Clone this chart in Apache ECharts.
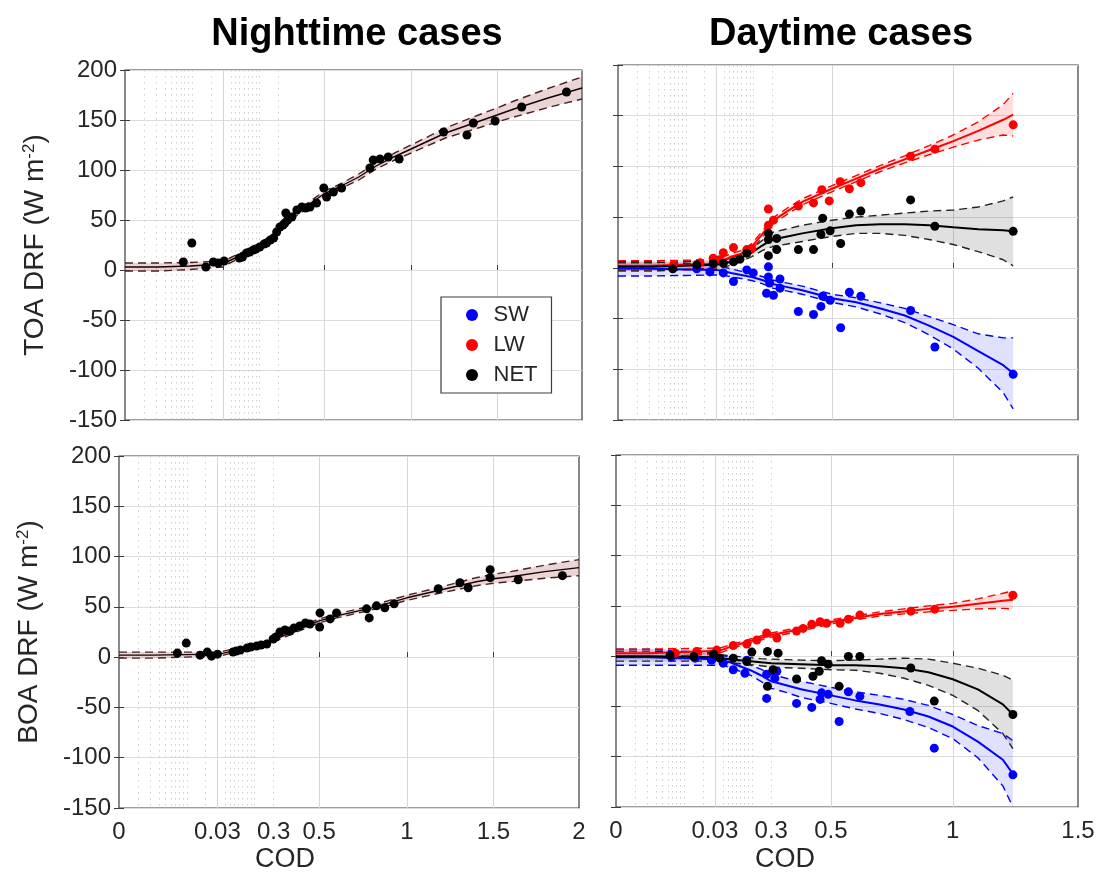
<!DOCTYPE html>
<html>
<head>
<meta charset="utf-8">
<script src="https://cdn.jsdelivr.net/npm/echarts@6/dist/echarts.min.js"></script>
<style>
html, body { margin: 0; background: #fff; }
#main { width: 1099px; height: 872px; }
</style>
</head>
<body>
<div id="main"></div>
<script>
// ---- axis ticks ----
var nightTickCod = [0, 0.03, 0.3, 0.5, 1, 1.5, 2];
var nightTickLabels = ['0', '0.03', '0.3', '0.5', '1', '1.5', '2'];
var dayTickCod = [0, 0.03, 0.3, 0.5, 1, 1.5];
var dayTickLabels = ['0', '0.03', '0.3', '0.5', '1', '1.5'];
var nightGridCod = [0.03, 0.5, 1, 1.5];
var dayGridCod = [0.03, 0.5, 1];
var yMin = -150, yMax = 200, yStep = 50;

// ---- measured points [COD, DRF] ----
var nightToaNet = [[0.0179, 8], [0.0205, 27], [0.0248, 3], [0.0271, 8], [0.0286, 7], [0.0366, 9], [0.11, 12],
  [0.125, 13], [0.145, 17], [0.16, 18], [0.178, 20], [0.19, 21], [0.209, 23], [0.23, 26], [0.242, 27], [0.26, 30],
  [0.276, 32], [0.291, 38], [0.306, 43], [0.32, 45], [0.328, 47], [0.332, 57], [0.34, 50], [0.359, 53], [0.381, 60],
  [0.403, 63], [0.42, 62], [0.439, 63], [0.468, 67], [0.5, 82], [0.516, 73], [0.555, 78], [0.602, 82], [0.764, 102],
  [0.783, 110], [0.822, 111], [0.869, 113], [0.932, 111], [1.189, 138], [1.325, 135], [1.362, 147], [1.489, 149],
  [1.645, 163], [1.909, 178]];
var nightBoaNet = [[0.0178, 4], [0.0205, 14], [0.0247, 2], [0.0269, 5], [0.0282, 1], [0.03, 3], [0.105, 5],
  [0.12, 6], [0.14, 7], [0.172, 9], [0.19, 10], [0.218, 11], [0.24, 12], [0.267, 13], [0.298, 18], [0.31, 20],
  [0.328, 25], [0.35, 27], [0.373, 26], [0.39, 29], [0.415, 31], [0.44, 34], [0.46, 33], [0.503, 30], [0.505, 44],
  [0.563, 38], [0.599, 44], [0.77, 48], [0.785, 39], [0.827, 51], [0.874, 49], [0.927, 53], [1.181, 68], [1.306, 74],
  [1.354, 69], [1.481, 87], [1.481, 79], [1.645, 77], [1.903, 81]];
var dayToaSw = [[0.0167, 0], [0.024, -1], [0.028, -4], [0.063, -5], [0.112, -13.5], [0.176, -2], [0.207, -5],
  [0.271, -25], [0.28, 1], [0.28, -9], [0.286, -15], [0.303, -27], [0.325, -11], [0.325, -20], [0.387, -43],
  [0.438, -46], [0.463, -38], [0.469, -28], [0.494, -32], [0.536, -59], [0.572, -24], [0.619, -28], [0.824, -42],
  [0.924, -78], [1.24, -105]];
var dayToaLw = [[0.0168, 2], [0.025, 5], [0.029, 9.5], [0.045, 8], [0.063, 15], [0.112, 20], [0.176, 18],
  [0.2, 19], [0.28, 58], [0.28, 42], [0.303, 47], [0.387, 61], [0.438, 64], [0.466, 77], [0.491, 66], [0.534, 85],
  [0.572, 78], [0.619, 84], [0.824, 110], [0.924, 117], [1.24, 141]];
var dayToaNet = [[0.0167, -1], [0.024, 3], [0.029, 4], [0.063, 4.6], [0.112, 6], [0.143, 8.6], [0.176, 14.5],
  [0.28, 12], [0.28, 28], [0.28, 34], [0.314, 29], [0.314, 18], [0.387, 18], [0.438, 18], [0.463, 33], [0.469, 49],
  [0.494, 36.5], [0.536, 24], [0.572, 53], [0.619, 56], [0.824, 67], [0.924, 41], [1.24, 36]];
var dayBoaSw = [[0.0168, -1], [0.024, -2], [0.029, -4], [0.07, -7], [0.118, -13.5], [0.174, -17], [0.183, -4],
  [0.278, -18], [0.278, -42], [0.312, -22], [0.319, -15], [0.385, -47], [0.436, -51], [0.464, -43], [0.469, -36.5],
  [0.491, -38], [0.534, -65], [0.572, -35.5], [0.619, -40], [0.824, -55], [0.924, -91.5], [1.24, -118]];
var dayBoaLw = [[0.018, 3], [0.0245, 4.6], [0.039, 6], [0.118, 10.6], [0.183, 12], [0.231, 16], [0.278, 23],
  [0.319, 18], [0.385, 25], [0.407, 27.6], [0.436, 31.6], [0.464, 34.3], [0.486, 32.6], [0.538, 32.6], [0.572, 36.8],
  [0.619, 40.8], [0.828, 44.7], [0.926, 46.7], [1.24, 60.5]];
var dayBoaNet = [[0.0164, 0.7], [0.0236, -0.3], [0.0296, 2], [0.054, -2], [0.118, -2], [0.183, -5.3], [0.207, 4],
  [0.282, 4.6], [0.282, -30], [0.306, -13.5], [0.323, 3], [0.385, -22.7], [0.44, -20], [0.461, -15], [0.469, -4.6],
  [0.491, -8], [0.534, -30], [0.572, -0.3], [0.619, -0.3], [0.828, -11.8], [0.924, -44.7], [1.24, -58]];

// ---- fitted curves and their confidence half widths ----
var nightFitCod = [0, 0.01, 0.02, 0.03, 0.06, 0.1, 0.15, 0.2, 0.25, 0.3, 0.35, 0.4, 0.5, 0.6, 0.7, 0.8, 0.9, 1.0, 1.2, 1.4, 1.5, 1.6, 1.8, 2.0];
var nightToaFit = [3, 3, 4, 6, 9, 13, 18, 23, 30, 41, 52, 60, 76, 84, 93, 104, 113, 121, 137, 149, 155, 161, 172, 182];
var nightToaHalf = [4, 4, 3.5, 3, 2.5, 2.5, 2.5, 2.5, 2.5, 2.5, 2.5, 2.5, 2.5, 2.5, 3, 3, 3.5, 4, 5, 6.5, 7, 8, 9.5, 11];
var nightBoaFit = [2, 2, 2.5, 3, 4, 6, 8, 10, 13, 17, 22, 27, 36, 41, 45, 49, 54, 59, 67, 75, 78, 80, 85, 89];
var nightBoaHalf = [3, 3, 2.5, 2, 2, 2, 2, 2, 2, 2, 2, 2, 2, 2, 2, 2, 2.5, 2.5, 3, 4, 4.5, 5, 6.5, 8];

var dayFitCod = [0, 0.01, 0.02, 0.03, 0.06, 0.1, 0.15, 0.2, 0.25, 0.3, 0.35, 0.4, 0.5, 0.6, 0.7, 0.8, 0.9, 1.0, 1.1, 1.2, 1.24];
var dayToaSwFit = [-1, -1, -1.5, -2, -3, -5, -7, -9, -12, -16, -19, -22, -30, -34, -40, -47, -57, -68, -82, -96, -104];
var dayToaSwHalf = [7, 7, 6, 5, 4, 4, 3.5, 3.5, 3.5, 4, 4, 4, 4, 4.5, 5.5, 7, 9, 12, 17, 27, 35];
var dayToaLwFit = [2, 2, 3, 4, 7, 11, 14, 21, 33, 46, 56, 65, 78, 88, 98, 107, 116, 125, 135, 146, 151];
var dayToaLwHalf = [5, 5, 4.5, 4, 3.5, 3, 3, 3, 3, 3, 3, 3, 3, 3, 3, 3.5, 4.5, 6, 9, 15, 21];
var dayToaNetFit = [1, 1, 2, 3, 4, 6, 10, 15, 22, 28, 31, 34, 39, 42, 43, 43, 42, 40, 38, 37, 36];
var dayToaNetHalf = [4, 4, 4, 4, 3.5, 3.5, 3.5, 4, 5, 7, 7.5, 8, 8, 8, 9, 11, 14, 17, 22, 29, 34];
var dayBoaSwFit = [-1, -1, -2, -3, -4, -6, -10, -14, -19, -25, -29, -33, -39, -44, -48, -53, -60, -70, -85, -103, -117];
var dayBoaSwHalf = [8, 8, 7, 6, 5, 5, 5, 5, 6, 7, 7, 8, 8, 8.5, 9, 10, 11, 12, 16, 26, 33];
var dayBoaLwFit = [3, 3, 4, 5, 6, 9, 12, 15, 18, 21, 24, 27, 34, 38, 42, 44.5, 47, 49, 52, 55, 56];
var dayBoaLwHalf = [4, 4, 3.5, 3, 2.5, 2, 2, 2, 2, 2, 2, 2, 2, 2, 2, 2.5, 3, 3.5, 5, 7.5, 9];
var dayBoaNetFit = [0, 0, -0.5, -1, -2, -3, -4, -5, -6, -7, -7.5, -8, -9, -9, -10, -12, -16, -23, -33, -48, -58];
var dayBoaNetHalf = [5, 5, 4.5, 4, 3.5, 3.5, 3.5, 3.5, 3.5, 4, 4, 4, 4.5, 5, 7, 10, 13, 16, 21, 29, 34];

// ---- COD axis: piecewise scale, tick positions as fraction of axis ----
var nightAxisPos = [0, 0.214, 0.336, 0.435, 0.626, 0.814, 1];
var dayAxisPos = [0, 0.214, 0.336, 0.465, 0.729, 1];
var minorGridPos = [0.042, 0.068, 0.088, 0.101, 0.113, 0.122, 0.130, 0.139, 0.148, 0.188,
  0.232, 0.242, 0.251, 0.260, 0.269, 0.278, 0.287, 0.294, 0.336];

function makeScale(cods, pos) {
    return function (c) {
        for (var i = 1; i < cods.length; i++) {
            if (c <= cods[i] || i === cods.length - 1) {
                return pos[i - 1] + (c - cods[i - 1]) / (cods[i] - cods[i - 1]) * (pos[i] - pos[i - 1]);
            }
        }
    };
}
var nightX = makeScale(nightTickCod, nightAxisPos);
var dayX = makeScale(dayTickCod, dayAxisPos);

var FONT = 'Liberation Sans';
var TXT = '#262626';

var grids = [
    {left: 125, top: 70, width: 457, height: 350},
    {left: 618, top: 65, width: 460, height: 355},
    {left: 119, top: 456, width: 460, height: 352},
    {left: 616, top: 455, width: 462, height: 352}
];
grids.forEach(function (g) {
    g.show = true;
    g.borderColor = '#3c3c3c';
    g.borderWidth = 1.2;
    g.outerBoundsMode = 'none';
});

var panelScale = [nightX, dayX, nightX, dayX];
var panelTicks = [nightTickCod, dayTickCod, nightTickCod, dayTickCod];
var panelLabels = [nightTickLabels, dayTickLabels, nightTickLabels, dayTickLabels];
var panelGrid = [nightGridCod, dayGridCod, nightGridCod, dayGridCod];

var xAxes = [], yAxes = [];
for (var g = 0; g < 4; g++) {
    (function (g) {
        var toX = panelScale[g];
        var labelPos = panelTicks[g].map(toX);
        xAxes.push({
            gridIndex: g, type: 'value', min: 0, max: 1,
            axisLine: {show: false},
            axisTick: {show: true, inside: true, length: 5, customValues: panelGrid[g].map(toX),
                lineStyle: {color: '#3c3c3c'}},
            axisLabel: {
                show: g >= 2, customValues: labelPos, margin: 12,
                fontSize: 24, color: TXT, fontFamily: FONT,
                formatter: function (v) {
                    for (var i = 0; i < labelPos.length; i++) {
                        if (Math.abs(labelPos[i] - v) < 1e-6) return panelLabels[g][i];
                    }
                    return '';
                }
            },
            splitLine: {show: true, lineStyle: {color: '#d6d6d6', width: 1}}
        });
        yAxes.push({
            gridIndex: g, type: 'value', min: yMin, max: yMax, interval: yStep,
            axisLine: {show: false},
            axisTick: {show: true, inside: true, length: 5, lineStyle: {color: '#3c3c3c'}},
            axisLabel: {show: g % 2 === 0, fontSize: 24, color: TXT, fontFamily: FONT, margin: 8},
            splitLine: {show: true, lineStyle: {color: '#dcdcdc', width: 1}},
            name: g === 0 ? 'TOA DRF (W m{sup|-2})' : (g === 2 ? 'BOA DRF (W m{sup|-2})' : ''),
            nameLocation: 'middle', nameRotate: 90, nameGap: 76, nameMoveOverlap: false,
            nameTextStyle: {fontSize: 28, color: TXT, fontFamily: FONT,
                rich: {sup: {fontSize: 17, color: TXT, fontFamily: FONT, verticalAlign: 'top'}}}
        });
    })(g);
}
// dotted minor grid and right-hand ticks
for (var g2 = 0; g2 < 4; g2++) {
    xAxes.push({
        gridIndex: g2, type: 'value', min: 0, max: 1, position: 'top',
        axisLine: {show: false}, axisLabel: {show: false},
        axisTick: {show: false, customValues: minorGridPos},
        splitLine: {show: true, lineStyle: {color: '#cdcdcd', width: 1, type: [1.5, 4.5]}}
    });
    yAxes.push({
        gridIndex: g2, type: 'value', min: yMin, max: yMax, interval: yStep, position: 'right',
        axisLine: {show: false}, axisLabel: {show: false}, splitLine: {show: false},
        axisTick: {show: true, inside: true, length: 5, lineStyle: {color: '#3c3c3c'}}
    });
}

var series = [];
function addFit(g, xs, mid, half, lineColor, dashColor, bandColor, width) {
    var toX = panelScale[g];
    series.push({
        type: 'custom', xAxisIndex: g, yAxisIndex: g, silent: true, z: 1,
        data: xs.map(function (x, i) { return [toX(x), mid[i] - half[i], mid[i] + half[i]]; }),
        encode: {x: 0, y: [1, 2]},
        renderItem: function (params, api) {
            if (params.dataIndex !== 0) return;
            var pts = [], i;
            for (i = 0; i < xs.length; i++) pts.push(api.coord([toX(xs[i]), mid[i] + half[i]]));
            for (i = xs.length - 1; i >= 0; i--) pts.push(api.coord([toX(xs[i]), mid[i] - half[i]]));
            return {type: 'polygon', shape: {points: pts}, style: {fill: bandColor}};
        }
    });
    [1, -1].forEach(function (s) {
        series.push({
            type: 'line', xAxisIndex: g, yAxisIndex: g, silent: true, z: 2,
            showSymbol: false, symbol: 'none',
            data: xs.map(function (x, i) { return [toX(x), mid[i] + s * half[i]]; }),
            lineStyle: {color: dashColor, width: 1.4, type: [8, 5]}
        });
    });
    series.push({
        type: 'line', xAxisIndex: g, yAxisIndex: g, silent: true, z: 3,
        showSymbol: false, symbol: 'none',
        data: xs.map(function (x, i) { return [toX(x), mid[i]]; }),
        lineStyle: {color: lineColor, width: width}
    });
}
function addPoints(g, name, pts, color) {
    var toX = panelScale[g];
    series.push({
        type: 'scatter', name: name, xAxisIndex: g, yAxisIndex: g, z: 4,
        symbol: 'circle', symbolSize: 9,
        data: pts.map(function (p) { return [toX(p[0]), p[1]]; }),
        itemStyle: {color: color, opacity: 1}
    });
}

var BLUE = '#0000ff', RED = '#ff0000', BLACK = '#000000';
var BAND_B = 'rgba(0,0,255,0.12)', BAND_R = 'rgba(255,0,0,0.13)', BAND_K = 'rgba(0,0,0,0.12)';
var BAND_N = 'rgba(160,60,60,0.22)';

// night panels
addPoints(0, 'NET', nightToaNet, BLACK);
addFit(0, nightFitCod, nightToaFit, nightToaHalf, '#140000', '#4a2020', BAND_N, 1.4);
addPoints(2, 'NET', nightBoaNet, BLACK);
addFit(2, nightFitCod, nightBoaFit, nightBoaHalf, '#140000', '#4a2020', BAND_N, 1.4);

// day TOA
addFit(1, dayFitCod, dayToaSwFit, dayToaSwHalf, BLUE, BLUE, BAND_B, 2);
addFit(1, dayFitCod, dayToaLwFit, dayToaLwHalf, RED, RED, BAND_R, 2);
addFit(1, dayFitCod, dayToaNetFit, dayToaNetHalf, BLACK, '#222', BAND_K, 2);
addPoints(1, 'SW', dayToaSw, BLUE);
addPoints(1, 'LW', dayToaLw, RED);
addPoints(1, 'NET', dayToaNet, BLACK);

// day BOA
addFit(3, dayFitCod, dayBoaSwFit, dayBoaSwHalf, BLUE, BLUE, BAND_B, 2);
addFit(3, dayFitCod, dayBoaLwFit, dayBoaLwHalf, RED, RED, BAND_R, 2);
addFit(3, dayFitCod, dayBoaNetFit, dayBoaNetHalf, BLACK, '#222', BAND_K, 2);
addPoints(3, 'SW', dayBoaSw, BLUE);
addPoints(3, 'LW', dayBoaLw, RED);
addPoints(3, 'NET', dayBoaNet, BLACK);

var chart = echarts.init(document.getElementById('main'));
var option = {
    animation: false,
    backgroundColor: '#ffffff',
    grid: grids,
    xAxis: xAxes,
    yAxis: yAxes,
    legend: {
        data: ['SW', 'LW', 'NET'],
        orient: 'vertical', left: 441, top: 297, z: 20,
        icon: 'circle', itemWidth: 33, itemHeight: 12, itemGap: 8,
        padding: [7, 14, 7, 25],
        borderColor: '#3c3c3c', borderWidth: 1.2, backgroundColor: '#ffffff',
        selectedMode: false,
        textStyle: {fontSize: 22, lineHeight: 22, color: TXT, fontFamily: FONT}
    },
    graphic: [
        {type: 'text', x: 357, y: 35, style: {text: 'Nighttime cases', textAlign: 'center', textVerticalAlign: 'middle',
            font: 'bold 38px "Liberation Sans"', fill: '#000'}},
        {type: 'text', x: 841, y: 35, style: {text: 'Daytime cases', textAlign: 'center', textVerticalAlign: 'middle',
            font: 'bold 38px "Liberation Sans"', fill: '#000'}},
        {type: 'text', x: 285, y: 860, style: {text: 'COD', textAlign: 'center', textVerticalAlign: 'middle',
            font: '27px "Liberation Sans"', fill: TXT}},
        {type: 'text', x: 785, y: 860, style: {text: 'COD', textAlign: 'center', textVerticalAlign: 'middle',
            font: '27px "Liberation Sans"', fill: TXT}}
    ],
    series: series
};
chart.setOption(option);
</script>
</body>
</html>
